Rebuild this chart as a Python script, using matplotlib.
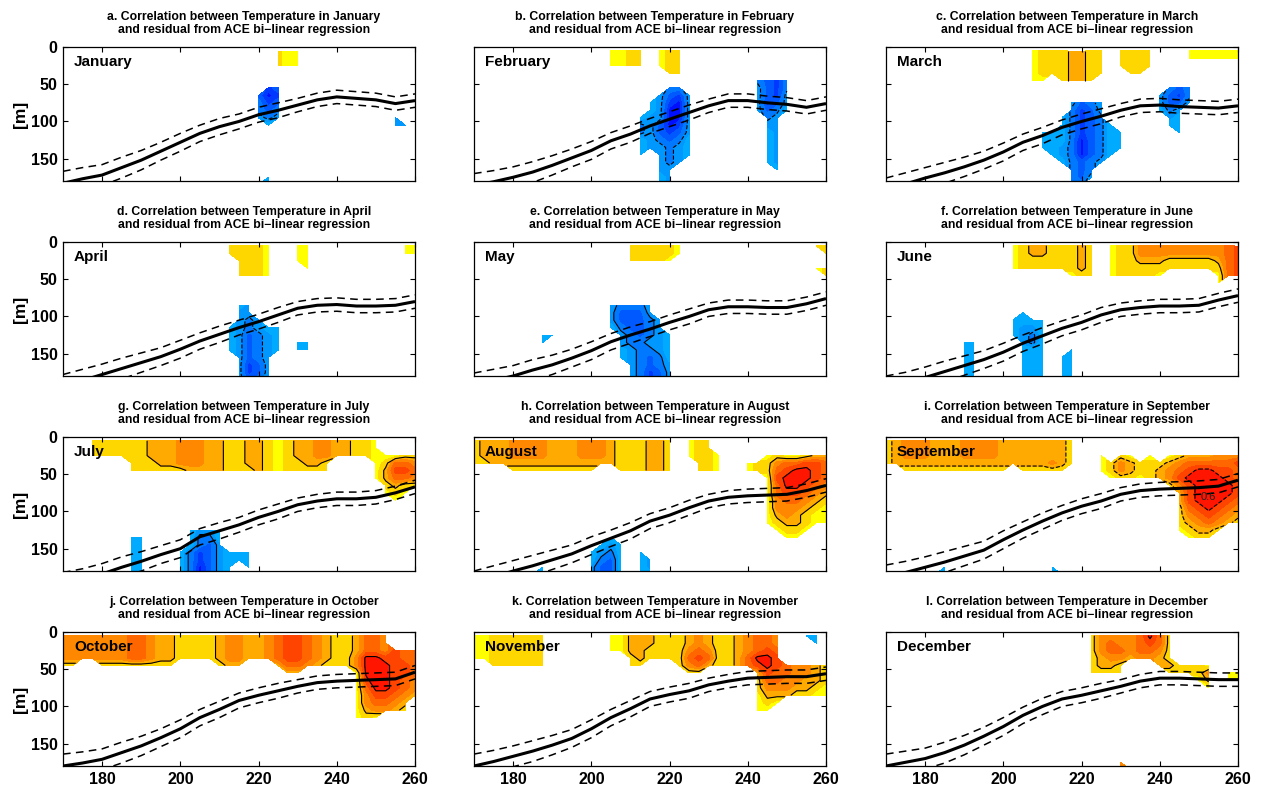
import numpy as np
import matplotlib
matplotlib.use("Agg")
import matplotlib.pyplot as plt

plt.rcParams['font.family'] = ['Liberation Sans', 'DejaVu Sans']

# ---------------- data ----------------
months = ["January", "February", "March", "April", "May", "June",
          "July", "August", "September", "October", "November", "December"]
letters = list("abcdefghijkl")

# correlation grid: longitude (deg E) x depth (m)
grid_lon = np.arange(170, 260.1, 2.5)
grid_depth = np.arange(5, 186, 10)
# character code -> correlation value ('.' = not significant / masked)
code_values = {'1': 0.32, '2': 0.37, '3': 0.42, '4': 0.47, '5': 0.52, '6': 0.57, '7': 0.62, '8': 0.67,
               'a': -0.32, 'b': -0.37, 'c': -0.42, 'd': -0.47, 'e': -0.52, 'f': -0.57, 'g': -0.62}

# each entry: (depth row, first lon column, codes along longitude)
jan_cells = [(0, 22, "211"), (1, 22, "211"), (2, 22, "211"),
             (5, 21, "ed"), (6, 20, "dfe"), (7, 20, "ced"), (8, 20, "cdc"), (9, 20, "bcb"), (10, 21, "a"),
             (9, 34, "b"), (10, 34, "bb"),
             (17, 21, "a"), (18, 20, "ab")]
feb_cells = [(0, 14, "1122"), (1, 14, "1122"), (2, 14, "1122"),
             (0, 19, "122"), (1, 19, "122"), (2, 19, "122"), (3, 20, "22"),
             (5, 20, "cc"), (6, 19, "bdeb"), (7, 18, "abefb"), (8, 18, "abffb"), (9, 17, "abbffb"),
             (10, 17, "cbdfeb"), (11, 17, "cbdedb"), (12, 17, "abcdca"), (13, 17, "abbcba"), (14, 17, "a.bcba"),
             (15, 19, "bcb"), (16, 19, "bb"), (17, 19, "ab"), (18, 19, "ab"),
             (4, 29, "cdec"), (5, 29, "bdec"), (6, 29, "bdeb"), (7, 29, "bedb"), (8, 29, "bdca"),
             (9, 30, "cb"), (10, 30, "bb"), (11, 30, "ab"), (12, 30, "ab"), (13, 30, "ab"), (14, 30, "ab"),
             (15, 30, "ab"), (16, 31, "a")]
mar_cells = [(0, 15, "12223322"), (1, 15, "12223322"), (2, 15, "12223322"), (3, 15, "12223322"), (4, 15, "11.2332"),
             (0, 24, "2222"), (1, 24, "2222"), (2, 24, "2222"), (3, 25, "22"),
             (0, 31, "111111"), (1, 31, "111111"),
             (7, 19, "bdcb"), (8, 19, "cedb"), (9, 18, "acedc"), (10, 18, "acedca"), (11, 16, "aaacedcaa"),
             (12, 16, "aaacfdcaa"), (13, 16, "aabcfdcaa"), (14, 17, "abcfdca"), (15, 18, "acdcb"),
             (16, 19, "cdc"), (17, 19, "cdb"), (18, 19, "cc"),
             (5, 29, "cdc"), (6, 28, "bdec"), (7, 28, "bddb"), (8, 28, "acb"), (9, 29, "ba"), (10, 29, "aa"), (11, 30, "a")]
apr_cells = [(0, 17, "22221"), (1, 17, "22221"), (2, 18, "2221"), (3, 18, "2221"), (4, 18, "2221"),
             (0, 24, "11"), (1, 24, "11"), (2, 24, "11"), (3, 25, "1"),
             (0, 35, "11"), (1, 35, "11"),
             (8, 18, "ab"), (9, 18, "bb"), (10, 18, "bcb"), (11, 17, "abcbaa"), (12, 17, "abdcba"),
             (13, 17, "abdcba"), (14, 17, "abdcba"), (15, 18, "bdcb"), (16, 18, "bedb"), (17, 18, "bedb"), (18, 18, "bdcb"),
             (13, 24, "aa"), (14, 24, "aa")]
may_cells = [(0, 16, "222221"), (1, 16, "222221"), (2, 16, "22221"),
             (0, 35, "22"), (1, 36, "2"), (3, 35, "12"), (4, 36, "2"),
             (12, 7, "aa"), (13, 7, "a"),
             (8, 14, "bcccb"), (9, 14, "bdddb"), (10, 14, "bdddcb"), (11, 14, "acddcb"), (12, 15, "bcdcba"),
             (13, 15, "bccbba"), (14, 15, "abccba"), (15, 15, "abcdca"), (16, 16, "bcdcb"), (17, 16, "bcedb"), (18, 16, "bcedb")]
jun_cells = [(0, 13, "123322232"), (1, 13, "123322232"), (2, 13, "122222232"), (3, 13, "122222232"), (4, 19, "122"),
             (0, 23, "12244444444456"), (1, 23, "12244444444456"), (2, 23, "12233322222356"),
             (3, 23, "12222222222256"), (4, 23, "122221"), (4, 34, "156"), (5, 34, "1"),
             (13, 8, "aa"), (14, 8, "aa"), (15, 8, "aa"), (16, 8, "aa"), (17, 8, "aa"), (18, 8, "aa"),
             (9, 14, "a"), (10, 13, "aaaa"), (11, 13, "abba"), (12, 13, "abca"), (13, 14, "bca"), (14, 14, "aaa"),
             (15, 14, "aaa"), (16, 14, "aaa"), (17, 14, "aaa"), (18, 14, "aaa"),
             (14, 19, "a"), (15, 18, "aa"), (16, 18, "aa"), (17, 18, "aa"), (18, 18, "aa")]
jul_cells = [(0, 3, "222222333444332233212334433221"), (1, 3, "222222333444332233212334433221"),
             (2, 3, "2222223334443322332123344332211122"),
             (3, 7, "222334443322332122332"), (3, 32, "12554"),
             (4, 7, "222222333322232122222"), (4, 32, "13665"),
             (5, 32, "13554"), (6, 33, "2322"), (7, 33, "121"), (8, 34, "1"),
             (13, 7, "aa"), (14, 7, "aa"), (15, 7, "aa"), (16, 7, "aa"), (17, 7, "aa"), (18, 7, "aa"),
             (12, 13, "abba"), (13, 13, "acca"), (14, 13, "acdb"), (15, 12, "acedbaaa"), (16, 12, "acedbaaa"),
             (17, 12, "acfdba.a"), (18, 12, "acfdba.a")]
aug_cells = [(0, 0, "233344443334443222332"), (1, 0, "233344443334443222332"), (2, 0, "233344443334443222332"),
             (3, 0, "223333333333333222332"), (4, 4, "222222222"), (4, 15, "222332"),
             (0, 22, "122"), (1, 22, "122"), (2, 22, "1221"), (3, 23, "221"), (4, 23, "221"),
             (2, 30, "1211233"), (3, 28, "122455665"), (4, 28, "122567765"), (5, 30, "1677765"), (6, 30, "1577654"),
             (7, 30, "1566543"), (8, 30, "1455432"), (9, 30, "1444321"), (10, 30, "1343211"), (11, 30, "1233211"),
             (12, 31, "1221"), (13, 32, "11"),
             (17, 7, "a"), (18, 6, "aa"),
             (13, 14, "a"), (14, 13, "aba"), (15, 12, "abca"), (16, 12, "acda"), (17, 12, "bdda"), (18, 12, "bdda"),
             (15, 17, "a"), (16, 17, "ab"), (17, 17, "ab"), (18, 17, "aa")]
sep_cells = [(0, 0, "23444333444433333332"), (1, 0, "23444333444433333332"), (2, 0, "23444333444433333332"),
             (3, 0, "23333333333333333432"), (4, 2, "22222222222"), (4, 14, "22222"),
             (2, 22, "1.21.1.12333444"), (3, 22, "124322234555556"), (4, 22, "124322345677665"),
             (5, 23, "12212346777765"), (6, 29, "24677776"), (7, 30, "3677776"), (8, 30, "3677765"),
             (9, 30, "2567654"), (10, 30, "2456543"), (11, 30, "2345432"), (12, 30, "12332"), (13, 31, "122"),
             (17, 6, "a"), (18, 5, "aa"), (17, 17, "a"), (18, 17, "aa")]
oct_cells = [(0, 0, "4444444554332222344334566543223554"), (1, 0, "4444444554332222344334566543223554"),
             (2, 0, "4444444554332222344334566543223554655"),
             (3, 0, "4444444554332222344334566543224776655"),
             (4, 0, "22"), (4, 4, "22222222"), (4, 16, "233"), (4, 22, "355432224787665"),
             (5, 23, "33"), (5, 30, "1787665"), (6, 30, "1687654"), (7, 30, "1577654"), (8, 30, "1466543"),
             (9, 30, "145543"), (10, 30, "134432"), (11, 30, "121")]
nov_cells = [(0, 0, "11222222"), (1, 0, "11222222"), (2, 0, "11222222"), (3, 0, "11222222"), (4, 2, "222222"),
             (0, 14, "113332223432234554"), (1, 14, "113332223432234554"), (2, 14, "113322224542234565"),
             (3, 16, "2322225652235776"), (4, 16, "22"), (4, 21, "2453223567654432"),
             (5, 22, "22"), (5, 29, "36554432"), (6, 29, "25544332"), (7, 29, "24443321"), (8, 29, "13332211"),
             (9, 29, "121"), (10, 29, "11"),
             (0, 34, "aa"), (1, 35, "a")]
dec_cells = [(0, 21, "244445752"), (1, 21, "245445652"), (2, 21, "245545542"), (3, 21, "234434432"),
             (4, 21, "2332"), (4, 28, "332221"), (5, 21, "2222"), (5, 29, "22224"), (6, 32, "13"), (7, 33, "1"),
             (5, 35, "11"), (6, 35, "11"),
             (17, 24, "4"), (18, 24, "43")]
month_cells = [jan_cells, feb_cells, mar_cells, apr_cells, may_cells, jun_cells,
               jul_cells, aug_cells, sep_cells, oct_cells, nov_cells, dec_cells]

# thermocline depth (m) at 170, 175, ..., 260 E
thermo_lon = np.arange(170, 261, 5)
thermo_jan = [183, 177, 172, 162, 152, 140, 128, 116, 107, 100, 91, 85, 78, 71, 67, 69, 71, 76, 72]
thermo_feb = [186, 181, 175, 168, 159, 149, 139, 126, 117, 106, 97, 88, 79, 72, 72, 75, 77, 81, 76]
thermo_mar = [192, 184, 176, 169, 161, 152, 141, 128, 119, 108, 100, 93, 85, 79, 78, 80, 81, 82, 79]
thermo_apr = [194, 186, 178, 170, 162, 154, 144, 133, 124, 115, 107, 98, 89, 85, 84, 86, 86, 85, 80]
thermo_may = [192, 186, 180, 172, 165, 156, 146, 134, 125, 117, 108, 100, 91, 87, 87, 88, 88, 83, 76]
thermo_jun = [196, 190, 182, 174, 166, 158, 148, 136, 126, 116, 108, 98, 91, 88, 86, 86, 85, 78, 72]
thermo_jul = [198, 192, 184, 175, 167, 158, 150, 134, 126, 118, 108, 100, 91, 86, 83, 83, 81, 75, 67]
thermo_aug = [196, 188, 180, 173, 165, 157, 146, 136, 126, 113, 105, 95, 86, 81, 79, 78, 77, 72, 65]
thermo_sep = [188, 182, 175, 168, 160, 152, 138, 125, 113, 102, 93, 86, 77, 72, 70, 69, 68, 66, 58]
thermo_oct = [180, 176, 171, 162, 153, 142, 130, 115, 104, 92, 85, 79, 73, 68, 66, 65, 64, 63, 54]
thermo_nov = [180, 174, 167, 160, 152, 143, 130, 115, 103, 90, 84, 79, 71, 66, 62, 61, 60, 60, 56]
thermo_dec = [180, 175, 170, 162, 152, 140, 127, 112, 100, 90, 85, 79, 73, 66, 62, 62, 63, 64, 64]
month_thermo = [thermo_jan, thermo_feb, thermo_mar, thermo_apr, thermo_may, thermo_jun,
                thermo_jul, thermo_aug, thermo_sep, thermo_oct, thermo_nov, thermo_dec]
thermo_spread = [16, 15, 14, 14, 13, 12, 12, 11, 11, 10, 10, 10, 9, 9, 9, 9, 9, 9, 9]

# ---------------- styling ----------------
LEVELS = [-1, -0.6, -0.55, -0.5, -0.45, -0.4, -0.35, -0.3, 0.3, 0.35, 0.4, 0.45, 0.5, 0.55, 0.6, 1]
COLORS = ['#0000C8', '#0010FF', '#0038FF', '#0058FF', '#0078FF', '#0098FF', '#00AAFF', 'white',
          '#FFFF00', '#FFD700', '#FFAA00', '#FF8800', '#FF6600', '#FF4400', '#FF1500']
NEG_STYLE = ['--', '--', '--', '--', '-', '--', '-', '-', '--', '--', '--', '--']
POS_STYLE = ['-', '-', '-', '-', '-', '-', '-', '-', '--', '-', '-', '-']

fig = plt.figure(figsize=(12.63, 7.90), dpi=100)
W, H = 1263.0, 790.0
col_x = [63, 474, 886]
row_top = [47, 242, 437, 632]
aw, ah = 352, 134


def build(cells):
    Z = np.full((len(grid_depth), len(grid_lon)), np.nan)
    for r, c, s in cells:
        for k, ch in enumerate(s):
            if ch != '.':
                Z[r, c + k] = code_values[ch]
    return np.ma.masked_invalid(Z)


for i in range(12):
    r, c = divmod(i, 3)
    ax = fig.add_axes([col_x[c] / W, 1 - (row_top[r] + ah) / H, aw / W, ah / H])
    Z = build(month_cells[i])
    ax.contourf(grid_lon, grid_depth, Z, levels=LEVELS, colors=COLORS)
    zmin, zmax = Z.min(), Z.max()
    for lv in [-0.4]:
        if zmin < lv < zmax:
            ax.contour(grid_lon, grid_depth, Z, levels=[lv], colors='k', linewidths=0.8,
                       linestyles=NEG_STYLE[i])
    pos = [lv for lv in [0.4, 0.6] if zmin < lv < zmax]
    if pos:
        ax.contour(grid_lon, grid_depth, Z, levels=pos, colors='k', linewidths=0.8,
                   linestyles=POS_STYLE[i])
    th = np.array(month_thermo[i], dtype=float)
    sp = np.array(thermo_spread, dtype=float)
    ax.plot(thermo_lon, th, color='k', lw=2.2, solid_capstyle='butt')
    ax.plot(thermo_lon, th - sp, color='k', lw=1.1, ls=(0, (5, 3.5)))
    ax.plot(thermo_lon, th + sp, color='k', lw=1.1, ls=(0, (5, 3.5)))
    if i == 8:
        ax.text(252.5, 81, "0.6", fontsize=8, ha='center', va='center', color='#222222')

    ax.set_xlim(170, 260)
    ax.set_ylim(180, 0)
    ax.set_xticks([180, 200, 220, 240, 260])
    ax.set_yticks([0, 50, 100, 150])
    ax.tick_params(direction='in', top=True, right=True, length=3.5, width=0.8,
                   labelsize=11.5, pad=4)
    for lab in ax.get_xticklabels() + ax.get_yticklabels():
        lab.set_fontweight('bold')
    if r < 3:
        ax.set_xticklabels([])
    if c > 0:
        ax.set_yticklabels([])
    else:
        ax.set_ylabel("[m]", fontsize=12.5, fontweight='bold', labelpad=2)
    for s in ax.spines.values():
        s.set_linewidth(0.9)
    ax.set_title(f"{letters[i]}. Correlation between Temperature in {months[i]}\n"
                 f"and residual from ACE bi\u2212linear regression",
                 fontsize=8.8, fontweight='bold', pad=10, x=0.514, linespacing=1.15)
    ax.text(0.031, 0.888, months[i], transform=ax.transAxes, fontsize=11,
            fontweight='bold', ha='left', va='center')

fig.savefig("out.png", dpi=100)
